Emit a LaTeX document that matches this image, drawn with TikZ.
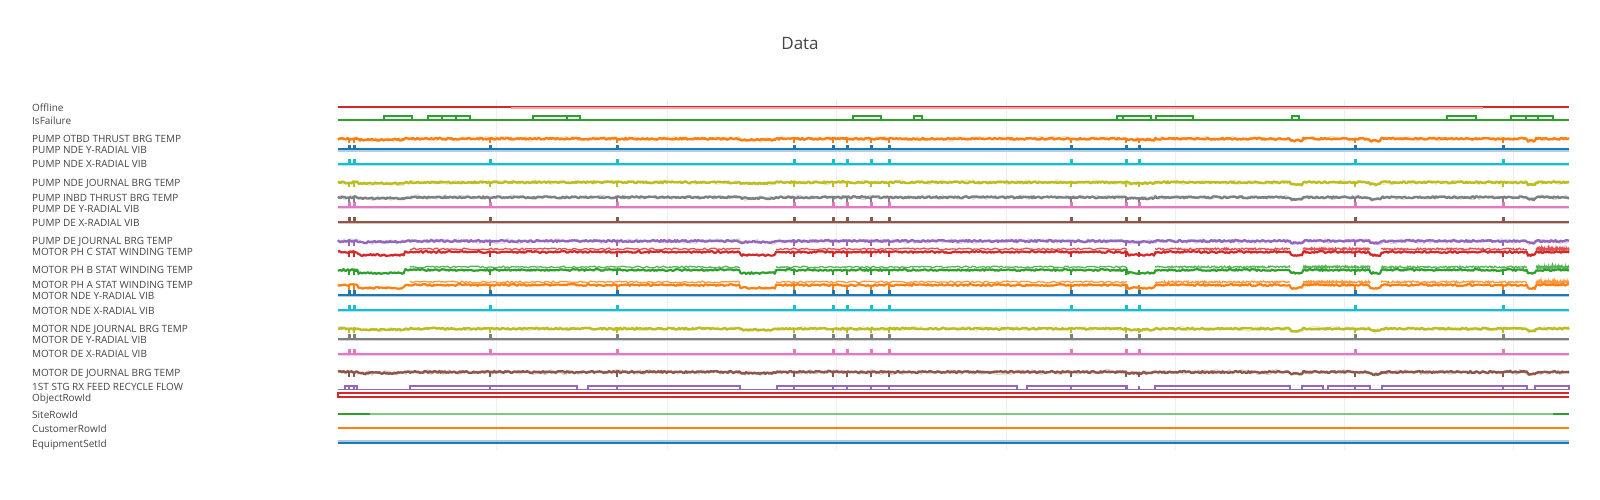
\documentclass[tikz,border=0pt]{standalone}
\usepackage{fontspec}
\setmainfont{Open Sans}
\usepackage{tikz}

\definecolor{tblue}{HTML}{1F77B4}
\definecolor{torange}{HTML}{FF7F0E}
\definecolor{tgreen}{HTML}{2CA02C}
\definecolor{tred}{HTML}{D62728}
\definecolor{tpurple}{HTML}{9467BD}
\definecolor{tbrown}{HTML}{8C564B}
\definecolor{tpink}{HTML}{E377C2}
\definecolor{tgray}{HTML}{7F7F7F}
\definecolor{tolive}{HTML}{BCBD22}
\definecolor{tcyan}{HTML}{17BECF}
\definecolor{labelgray}{HTML}{444444}
\definecolor{gridgray}{HTML}{EEEEEE}

\newcommand{\spikes}{349, 354, 490, 617, 794, 833, 847, 871, 889, 1071, 1126, 1139, 1355, 1503}

\newcommand{\vibtrace}[2]{%
    \draw [#1!35, line width=1.2] (338, #2 + 1.6) -- (1569, #2 + 1.6);
    \draw [#1, line width=2] (338, #2) -- (1569, #2);
    \foreach \s in \spikes {\fill [#1] (\s - 1.5, #2) rectangle (\s + 1.5, #2 - 4.8);}
}
\newcommand{\temptrace}[2]{%
    \draw [#1, opacity=0.3, line width=1.2] plot [domain=338:1569, samples=400] (\x, {#2 + 2.4*rand + lowseg(\x) + 2*dipseg(\x)});
    \draw [#1, line width=2.4, line join=round] plot [domain=338:1569, samples=900] (\x, {#2 + 0.9*rand + lowseg(\x) + 2*dipseg(\x)});
    \foreach \s in \spikes {\draw [#1, line width=2] (\s, #2) -- (\s, #2 + 4.5);}
}
\newcommand{\windtrace}[2]{%
    \draw [#1, line width=2.2, line join=round] plot [domain=338:1569, samples=900] (\x, {#2 + 0.9*rand + 3*lowseg(\x) + 3*dipseg(\x)});
    \foreach \a/\b in {410/740, 776/1127, 1155/1290, 1303/1370, 1381/1527, 1536/1569}
        \draw [#1, line width=1.3, opacity=0.8] plot [domain=\a:\b, samples=160] (\x, {#2 - 3 + 0.9*rand});
    \foreach \s in \spikes {\draw [#1, line width=2] (\s, #2) -- (\s, #2 + 4.5);}
}

\begin{document}
\begin{tikzpicture}[x=1pt, y=-1pt,
        declare function={
            lowseg(\t) = (\t > 358)*(\t < 405) + (\t > 740)*(\t < 776) + (\t > 1127)*(\t < 1155);
            dipseg(\t) = (\t > 1290)*(\t < 1303) + (\t > 1370)*(\t < 1381) + (\t > 1527)*(\t < 1536);
        },
        lbl/.style={anchor=west, inner sep=0, text height=7.3pt, text depth=0pt, text=labelgray, font=\fontsize{10}{12}\selectfont},
        ttl/.style={inner sep=0, text=labelgray, font=\fontsize{17}{20}\selectfont}]
    \useasboundingbox (0, 0) rectangle (1600, 500);
    \pgfmathsetseed{4242}

    \node [ttl] (title) at (800, 44) {Data};

    \foreach \g in {496, 667, 836, 1006, 1175, 1344, 1513}
        \draw [gridgray, line width=1] (\g, 100) -- (\g, 450);

    \node [lbl] (offline) at (32, 107.5) {Offline};
    \node [lbl] (isfailure) at (32, 120.8) {IsFailure};
    \node [lbl] (potbd) at (32, 138.5) {PUMP OTBD THRUST BRG TEMP};
    \node [lbl] (pndey) at (32, 149.8) {PUMP NDE Y-RADIAL VIB};
    \node [lbl] (pndex) at (32, 164.1) {PUMP NDE X-RADIAL VIB};
    \node [lbl] (pndej) at (32, 182.5) {PUMP NDE JOURNAL BRG TEMP};
    \node [lbl] (pinbd) at (32, 197.5) {PUMP INBD THRUST BRG TEMP};
    \node [lbl] (pdey) at (32, 208.5) {PUMP DE Y-RADIAL VIB};
    \node [lbl] (pdex) at (32, 222.8) {PUMP DE X-RADIAL VIB};
    \node [lbl] (pdej) at (32, 240.8) {PUMP DE JOURNAL BRG TEMP};
    \node [lbl] (mphc) at (32, 251.8) {MOTOR PH C STAT WINDING TEMP};
    \node [lbl] (mphb) at (32, 269.8) {MOTOR PH B STAT WINDING TEMP};
    \node [lbl] (mpha) at (32, 284.8) {MOTOR PH A STAT WINDING TEMP};
    \node [lbl] (mndey) at (32, 295.5) {MOTOR NDE Y-RADIAL VIB};
    \node [lbl] (mndex) at (32, 310.8) {MOTOR NDE X-RADIAL VIB};
    \node [lbl] (mndej) at (32, 328.8) {MOTOR NDE JOURNAL BRG TEMP};
    \node [lbl] (mdey) at (32, 340.1) {MOTOR DE Y-RADIAL VIB};
    \node [lbl] (mdex) at (32, 353.8) {MOTOR DE X-RADIAL VIB};
    \node [lbl] (mdej) at (32, 372.8) {MOTOR DE JOURNAL BRG TEMP};
    \node [lbl] (recycle) at (32, 386.8) {1ST STG RX FEED RECYCLE FLOW};
    \node [lbl] (objectrow) at (32, 397.5) {ObjectRowId};
    \node [lbl] (siterow) at (32, 414.8) {SiteRowId};
    \node [lbl] (customerrow) at (32, 428.5) {CustomerRowId};
    \node [lbl] (equipset) at (32, 443.5) {EquipmentSetId};

    \draw [tred!40, line width=1.6] (511, 107.8) -- (1483, 107.8);
    \draw [tred, line width=1.8] (338, 106.7) -- (511, 106.7);
    \draw [tred, line width=1.4] (511, 106.5) -- (1483, 106.5);
    \draw [tred, line width=1.8] (1483, 106.7) -- (1569, 106.7);

    \draw [tgreen, line width=1.8] (338, 120.3) -- (1569, 120.3);
    \foreach \a/\b in {384/412, 428/470, 533/580, 853/881, 914/922, 1117/1151, 1156/1193, 1292/1299, 1447/1476, 1511/1553}
        \draw [tgreen, line width=1.8] (\a, 120.3) rectangle (\b, 115.7);
    \foreach \a in {442, 456, 567, 1123, 1526, 1538}
        \draw [tgreen, line width=1.8] (\a, 120.3) -- (\a, 115.7);

    \temptrace{torange}{138.7}
    \vibtrace{tblue}{149.3}
    \vibtrace{tcyan}{163.7}
    \temptrace{tolive}{182.3}
    \temptrace{tgray}{197.3}
    \vibtrace{tpink}{207}
    \vibtrace{tbrown}{222}
    \temptrace{tpurple}{241}
    \windtrace{tred}{252}
    \windtrace{tgreen}{270}
    \windtrace{torange}{285}
    \vibtrace{tblue}{294.7}
    \vibtrace{tcyan}{309.7}
    \temptrace{tolive}{328.7}
    \vibtrace{tgray}{339}
    \vibtrace{tpink}{353.7}
    \temptrace{tbrown}{372}

    \draw [tpurple, line width=1.8] (338, 389.5) -- (1569, 389.5);
    \foreach \a/\b in {345/357, 410/577, 588/740, 777/1017, 1027/1127, 1155/1290, 1302/1323, 1328/1370, 1382/1527, 1535/1569}
        \draw [tpurple, line width=1.8] (\a, 389.5) -- (\a, 386) -- (\b, 386) -- (\b, 389.5);
    \foreach \s in \spikes
        \draw [tpurple, line width=1.8] (\s, 386) -- (\s, 389.5);

    \draw [tred, line width=1.6] (1569, 392.7) -- (338, 392.7) -- (338, 396.8) -- (1569, 396.8);

    \draw [tgreen!60, line width=1.6] (338, 413.7) -- (1569, 413.7);
    \draw [tgreen, line width=2] (338, 413.7) -- (370, 413.7);
    \draw [tgreen, line width=2] (1553, 413.7) -- (1569, 413.7);

    \draw [torange, line width=2] (338, 427.7) -- (1569, 427.7);

    \draw [tblue!40, line width=1.2] (338, 441) -- (1569, 441);
    \draw [tblue, line width=2] (338, 442.5) -- (1569, 442.5);
\end{tikzpicture}
\end{document}
